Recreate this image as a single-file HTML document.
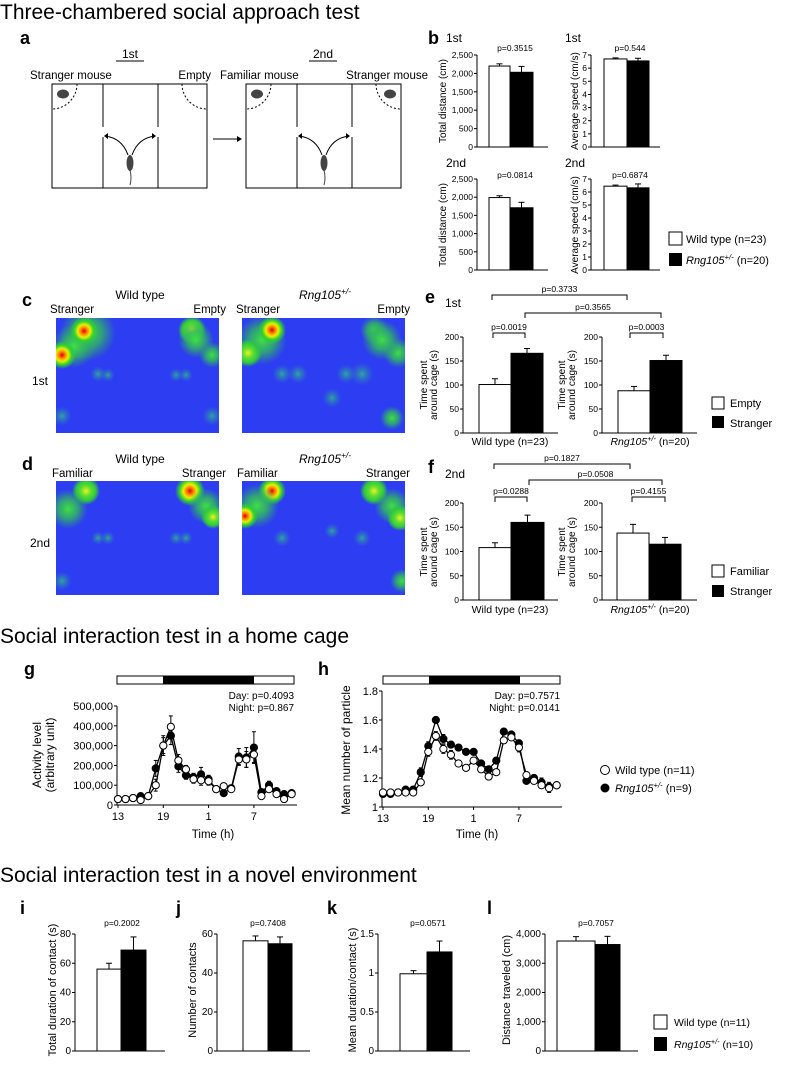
<!DOCTYPE html>
<html><head><meta charset="utf-8">
<style>
html,body{margin:0;padding:0;background:#fff;}
svg{display:block;font-family:"Liberation Sans",sans-serif;}
</style></head>
<body>
<svg id="fig" width="787" height="1075" viewBox="0 0 787 1075" xmlns="http://www.w3.org/2000/svg">
<defs>
<radialGradient id="gHot"><stop offset="0" stop-color="#e00000"/><stop offset="0.25" stop-color="#ff8800"/><stop offset="0.45" stop-color="#e8f000"/><stop offset="0.7" stop-color="#30d030"/><stop offset="1" stop-color="#30d030" stop-opacity="0"/></radialGradient>
<radialGradient id="gWarm"><stop offset="0" stop-color="#f0f020"/><stop offset="0.35" stop-color="#60e030"/><stop offset="0.7" stop-color="#30c840"/><stop offset="1" stop-color="#30c840" stop-opacity="0"/></radialGradient>
<radialGradient id="gGreen"><stop offset="0" stop-color="#40e040"/><stop offset="0.5" stop-color="#30b860" stop-opacity="0.8"/><stop offset="1" stop-color="#30a070" stop-opacity="0"/></radialGradient>
<radialGradient id="gFaint"><stop offset="0" stop-color="#30c080" stop-opacity="0.8"/><stop offset="1" stop-color="#3080c0" stop-opacity="0"/></radialGradient>
</defs>
</svg>
<script>
// ---------- data ----------
const bDist1Vals=[2200,2030]; const bDist1Errs=[60,160];
const bSpeed1Vals=[6.7,6.55]; const bSpeed1Errs=[0.08,0.2];
const bDist2Vals=[1990,1710]; const bDist2Errs=[50,150];
const bSpeed2Vals=[6.45,6.32]; const bSpeed2Errs=[0.08,0.3];
const distTicks=[0,500,1000,1500,2000,2500]; const distTickLabels=["0","500","1,000","1,500","2,000","2,500"];
const speedTicks=[0,1,2,3,4,5,6,7]; const speedTickLabels=["0","1","2","3","4","5","6","7"];
const e1WtVals=[101,166]; const e1WtErrs=[12,10];
const e1RngVals=[88,151]; const e1RngErrs=[9,11];
const f2WtVals=[108,160]; const f2WtErrs=[10,15];
const f2RngVals=[138,115]; const f2RngErrs=[18,14];
const timeTicks=[0,50,100,150,200]; const timeTickLabels=["0","50","100","150","200"];
const hourLabels=["13","19","1","7"]; const hourTickIdx=[0,6,12,18];
const gRng=[30,30,35,45,45,185,300,350,195,150,140,155,130,80,60,85,245,240,290,65,100,70,55,60].map(v=>v*1000);
const gWt=[30,30,35,25,45,100,300,395,225,180,130,125,120,80,95,80,230,230,255,45,80,55,30,55].map(v=>v*1000);
const gRngErr=[8,8,8,15,15,40,50,45,30,20,20,35,20,15,10,15,40,50,80,15,20,15,15,10].map(v=>v*1000);
const gWtErr=[8,8,8,8,15,30,40,55,30,20,20,25,20,15,15,10,30,40,40,10,15,10,10,10].map(v=>v*1000);
const gTicks=[0,100000,200000,300000,400000,500000]; const gTickLabels=["0","100,000","200,000","300,000","400,000","500,000"];
const hRng=[1.09,1.09,1.10,1.12,1.12,1.24,1.42,1.60,1.47,1.43,1.41,1.38,1.38,1.30,1.26,1.32,1.52,1.50,1.44,1.18,1.20,1.17,1.14,1.15];
const hWt=[1.10,1.10,1.10,1.10,1.10,1.17,1.38,1.49,1.40,1.36,1.30,1.27,1.32,1.26,1.21,1.24,1.46,1.48,1.41,1.22,1.18,1.15,1.13,1.15];
const hRngErr=[0.02,0.02,0.02,0.02,0.02,0.03,0.03,0.02,0.03,0.02,0.02,0.02,0.02,0.02,0.02,0.02,0.01,0.02,0.02,0.02,0.02,0.03,0.03,0.02];
const hWtErr=[0.02,0.02,0.02,0.02,0.02,0.02,0.03,0.03,0.03,0.03,0.02,0.02,0.02,0.02,0.02,0.02,0.02,0.02,0.03,0.02,0.02,0.02,0.03,0.02];
const hTicks=[1,1.2,1.4,1.6,1.8]; const hTickLabels=["1","1.2","1.4","1.6","1.8"];
const iVals=[56,69]; const iErrs=[4,9]; const iTicks=[0,20,40,60,80]; const iTickLabels=["0","20","40","60","80"];
const jVals=[56.5,55]; const jErrs=[2.5,3.5]; const jTicks=[0,20,40,60]; const jTickLabels=["0","20","40","60"];
const kVals=[0.99,1.27]; const kErrs=[0.04,0.14]; const kTicks=[0,0.5,1,1.5]; const kTickLabels=["0","0.5","1","1.5"];
const lVals=[3760,3640]; const lErrs=[150,280]; const lTicks=[0,1000,2000,3000,4000]; const lTickLabels=["0","1,000","2,000","3,000","4,000"];

// ---------- helpers ----------
const NS='http://www.w3.org/2000/svg';
const svg=document.getElementById('fig');
function mk(tag,attrs,name,parent){
  const el=document.createElementNS(NS,tag);
  for(const k in attrs) el.setAttribute(k,attrs[k]);
  
  
  (parent||svg).appendChild(el); return el;
}
function T(x,y,s,name,size,opts){
  opts=opts||{};
  const a={x:x,y:y,'font-size':size||11,fill:'#000'};
  if(opts.anchor) a['text-anchor']=opts.anchor;
  if(opts.weight) a['font-weight']=opts.weight;
  if(opts.rot!==undefined) a.transform='rotate('+opts.rot+' '+x+' '+y+')';
  if(opts.italic) a['font-style']='italic';
  const el=mk('text',a,name);
  el.textContent=s; return el;
}
function L(x1,y1,x2,y2,name,w){return mk('line',{x1:x1,y1:y1,x2:x2,y2:y2,stroke:'#000','stroke-width':w||1},name);}
function rngLabel(x,y,size,rest,name,anchor){
  const el=mk('text',{x:x,y:y,'font-size':size,'text-anchor':anchor||'start'},name);
  const a=document.createElementNS(NS,'tspan'); a.setAttribute('font-style','italic'); a.textContent='Rng105'; el.appendChild(a);
  const b=document.createElementNS(NS,'tspan'); b.setAttribute('font-style','italic'); b.setAttribute('font-size',size*0.7); b.setAttribute('dy',-size*0.4); b.textContent='+/-'; el.appendChild(b);
  const c=document.createElementNS(NS,'tspan'); c.setAttribute('dy',size*0.4); c.textContent=rest; el.appendChild(c);
  return el;
}
function barChart(o){
  const ys=v=>o.y0-(v-o.min)/(o.max-o.min)*(o.y0-o.yTop);
  L(o.ax,o.y0,o.ax,o.yTop,o.name+'-y-axis');
  L(o.ax,o.y0,o.xEnd,o.y0,o.name+'-x-axis');
  o.ticks.forEach((t,i)=>{
    L(o.ax-3,ys(t),o.ax,ys(t),o.name+'-y-tick');
    T(o.ax-4,ys(t)+3,o.tickLabels[i],o.name+'-y-tick-label',o.tf||8.5,{anchor:'end'});
  });
  o.vals.forEach((v,i)=>{
    const x0=o.bx[i],x1=o.bx[i+1],cx=(x0+x1)/2;
    const top=ys(v+o.errs[i]);
    L(cx,ys(v),cx,top,o.name+'-error-bar');
    L(cx-3,top,cx+3,top,o.name+'-error-cap');
    mk('rect',{x:x0,y:ys(v),width:x1-x0,height:o.y0-ys(v),fill:i==0?'#fff':'#000',stroke:'#000','stroke-width':1},o.name+'-bar-'+(i==0?'wt':'rng'));
  });
}
function bracket(x1,x2,y,label,name){
  mk('path',{d:'M'+x1+' '+(y+5)+'V'+y+'H'+x2+'V'+(y+5),fill:'none',stroke:'#000','stroke-width':1},name);
  T((x1+x2)/2,y-3,label,name+'-label',8.5,{anchor:'middle'});
}
function lineChart(o){
  const xs=i=>o.x0+i*o.step;
  const ys=v=>o.y0-(v-o.min)/(o.max-o.min)*(o.y0-o.yTop);
  L(o.ax,o.y0,o.ax,o.yTop,o.name+'-y-axis');
  L(o.ax,o.y0,o.xEnd,o.y0,o.name+'-x-axis');
  o.ticks.forEach((t,i)=>{L(o.ax-3,ys(t),o.ax,ys(t),o.name+'-y-tick');T(o.ax-4,ys(t)+4,o.tickLabels[i],o.name+'-y-tick-label',11,{anchor:'end'});});
  hourTickIdx.forEach((ix,i)=>{L(xs(ix),o.y0,xs(ix),o.y0+3,o.name+'-x-tick');T(xs(ix),o.y0+15,hourLabels[i],o.name+'-x-tick-label',11,{anchor:'middle'});});
  [[o.rng,o.rngErr,'#000','rng'],[o.wt,o.wtErr,'#fff','wt']].forEach(s=>{
    const d=s[0].map((v,i)=>(i?'L':'M')+xs(i).toFixed(1)+' '+ys(v).toFixed(1)).join('');
    mk('path',{d:d,fill:'none',stroke:'#000','stroke-width':1.3},o.name+'-line-'+s[3]);
  });
  [[o.rng,o.rngErr,'#000','rng'],[o.wt,o.wtErr,'#fff','wt']].forEach(s=>{
    s[0].forEach((v,i)=>{
      const t=ys(v+s[1][i]),b=ys(v-s[1][i]);
      L(xs(i),t,xs(i),b,o.name+'-error-bar-'+s[3]);
      L(xs(i)-2,t,xs(i)+2,t,o.name+'-error-cap');L(xs(i)-2,b,xs(i)+2,b,o.name+'-error-cap');
    });
    s[0].forEach((v,i)=>{mk('circle',{cx:xs(i),cy:ys(v),r:3.6,fill:s[2],stroke:'#000','stroke-width':1},o.name+'-point-'+s[3]);});
  });
}
function blob(g,x,y,r,grad,name){mk('circle',{cx:x,cy:y,r:r,fill:'url(#'+grad+')'},name,g);}
function heatmap(x,y,w,h,spots,name){
  const g=mk('g',{},name);
  mk('rect',{x:x,y:y,width:w,height:h,fill:'#2c3df2'},name+'-bg',g);
  const cp=mk('clipPath',{id:'cp'+name},name+'-clip',svg.querySelector('defs'));
  mk('rect',{x:x,y:y,width:w,height:h},name+'-clip-rect',cp);
  g.setAttribute('clip-path','url(#cp'+name+')');
  spots.forEach(s=>blob(g,x+s[0],y+s[1],s[2],s[3],name+'-hotspot'));
}

// ---------- titles ----------
T(0,19,'Three-chambered social approach test','section-title-three-chambered',21);
T(0,643,'Social interaction test in a home cage','section-title-home-cage',21);
T(0,882,'Social interaction test in a novel environment','section-title-novel-environment',21);

// ---------- panel a ----------
T(20,44,'a','panel-label-a',18,{weight:'bold'});
T(130,58,'1st','a-1st-label',12,{anchor:'middle'});L(116,61,144,61,'a-1st-underline');
T(323,58,'2nd','a-2nd-label',12,{anchor:'middle'});L(309,61,337,61,'a-2nd-underline');
T(30,79,'Stranger mouse','a-stranger-label',11.5);
T(211,79,'Empty','a-empty-label',11.5,{anchor:'end'});
T(220,79,'Familiar mouse','a-familiar-label',11.5);
T(428,79,'Stranger mouse','a-stranger-label-2',11.5,{anchor:'end'});
function chamber(x0,name,leftMouse,rightMouse){
  mk('rect',{x:x0,y:84,width:155,height:104,fill:'none',stroke:'#000','stroke-width':1},name+'-box');
  [51,106].forEach(dx=>{L(x0+dx,84,x0+dx,127,name+'-divider');L(x0+dx,137,x0+dx,188,name+'-divider');});
  mk('path',{d:'M'+(x0+25)+' 84 A25 25 0 0 1 '+x0+' 109',fill:'none',stroke:'#000','stroke-dasharray':'2,2'},name+'-cage-left');
  mk('path',{d:'M'+(x0+130)+' 84 A25 25 0 0 0 '+(x0+155)+' 109',fill:'none',stroke:'#000','stroke-dasharray':'2,2'},name+'-cage-right');
  if(leftMouse) mk('ellipse',{cx:x0+11,cy:94,rx:6,ry:4.5,fill:'#444'},name+'-mouse-left');
  if(rightMouse) mk('ellipse',{cx:x0+144,cy:94,rx:6,ry:4.5,fill:'#444'},name+'-mouse-right');
  const cx=x0+78;
  mk('ellipse',{cx:cx,cy:163,rx:3.5,ry:8,fill:'#444'},name+'-center-mouse');
  mk('path',{d:'M'+cx+' 170 Q'+(cx+2)+' 178 '+cx+' 185',fill:'none',stroke:'#444'},name+'-mouse-tail');
  mk('path',{d:'M'+(cx-2)+' 155 Q'+(cx-8)+' 138 '+(cx-25)+' 136',fill:'none',stroke:'#000'},name+'-arrow-left');
  mk('path',{d:'M'+(cx+2)+' 155 Q'+(cx+8)+' 138 '+(cx+25)+' 136',fill:'none',stroke:'#000'},name+'-arrow-right');
  mk('path',{d:'M'+(cx-26)+' 136 l4 -3 v6 z',fill:'#000'},name+'-arrowhead');
  mk('path',{d:'M'+(cx+26)+' 136 l-4 -3 v6 z',fill:'#000'},name+'-arrowhead');
}
chamber(52,'a-chamber-1st',true,false);
chamber(246,'a-chamber-2nd',true,true);
L(213,139,238,139,'a-transition-arrow');mk('path',{d:'M242 139 l-5 -3 v6 z',fill:'#000'},'a-transition-arrowhead');

// ---------- panel b ----------
T(428,44,'b','panel-label-b',18,{weight:'bold'});
T(446,42,'1st','b-1st-label',12);T(565,42,'1st','b-1st-label-2',12);
T(446,167,'2nd','b-2nd-label',12);T(565,167,'2nd','b-2nd-label-2',12);
T(515,51,'p=0.3515','b-p-dist1',8.5,{anchor:'middle'});
T(630,51,'p=0.544','b-p-speed1',8.5,{anchor:'middle'});
T(515,178,'p=0.0814','b-p-dist2',8.5,{anchor:'middle'});
T(630,178,'p=0.6874','b-p-speed2',8.5,{anchor:'middle'});
barChart({name:'b-dist-1st',ax:477,y0:147,yTop:55,min:0,max:2500,ticks:distTicks,tickLabels:distTickLabels,vals:bDist1Vals,errs:bDist1Errs,bx:[489,510,533],xEnd:548});
barChart({name:'b-speed-1st',ax:591,y0:147,yTop:55,min:0,max:7,ticks:speedTicks,tickLabels:speedTickLabels,vals:bSpeed1Vals,errs:bSpeed1Errs,bx:[604,627,649],xEnd:660});
barChart({name:'b-dist-2nd',ax:477,y0:270,yTop:179,min:0,max:2500,ticks:distTicks,tickLabels:distTickLabels,vals:bDist2Vals,errs:bDist2Errs,bx:[489,510,533],xEnd:548});
barChart({name:'b-speed-2nd',ax:591,y0:270,yTop:179,min:0,max:7,ticks:speedTicks,tickLabels:speedTickLabels,vals:bSpeed2Vals,errs:bSpeed2Errs,bx:[604,627,649],xEnd:660});
T(446,101,'Total distance (cm)','b-y-title-dist',10,{anchor:'middle',rot:-90});
T(578,101,'Average speed (cm/s)','b-y-title-speed',10,{anchor:'middle',rot:-90});
T(446,225,'Total distance (cm)','b-y-title-dist-2',10,{anchor:'middle',rot:-90});
T(578,225,'Average speed (cm/s)','b-y-title-speed-2',10,{anchor:'middle',rot:-90});
mk('rect',{x:669,y:232,width:13,height:13,fill:'#fff',stroke:'#000'},'b-legend-wt-swatch');
T(686,243,'Wild type (n=23)','b-legend-wt-label',11);
mk('rect',{x:669,y:253,width:13,height:13,fill:'#000'},'b-legend-rng-swatch');
rngLabel(686,264,11,' (n=20)','b-legend-rng-label');

// ---------- panels c, d ----------
T(22,306,'c','panel-label-c',18,{weight:'bold'});
T(140,299,'Wild type','c-wt-title',12,{anchor:'middle'});
rngLabel(325,299,12,'','c-rng-title','middle');
T(50,313,'Stranger','c-stranger-1',11.5);T(226,313,'Empty','c-empty-1',11.5,{anchor:'end'});
T(236,313,'Stranger','c-stranger-2',11.5);T(410,313,'Empty','c-empty-2',11.5,{anchor:'end'});
T(32,385,'1st','c-1st-label',12);
heatmap(56,318,163,115,[[32,15,28,'gGreen'],[18,28,22,'gGreen'],[28,13,14,'gHot'],[6,37,14,'gHot'],[136,12,14,'gWarm'],[156,37,13,'gGreen'],[140,22,18,'gGreen'],[42,56,8,'gFaint'],[52,57,7,'gFaint'],[120,57,7,'gFaint'],[130,57,7,'gFaint'],[6,98,10,'gFaint'],[156,98,10,'gFaint']],'c-heatmap-wt');
heatmap(242,318,163,115,[[20,22,25,'gGreen'],[30,12,14,'gHot'],[6,35,14,'gWarm'],[132,12,14,'gGreen'],[156,35,15,'gGreen'],[140,22,20,'gGreen'],[40,56,10,'gFaint'],[56,56,10,'gFaint'],[104,56,10,'gFaint'],[120,56,12,'gFaint'],[150,100,12,'gGreen'],[90,80,10,'gFaint']],'c-heatmap-rng');
T(22,470,'d','panel-label-d',18,{weight:'bold'});
T(140,463,'Wild type','d-wt-title',12,{anchor:'middle'});
rngLabel(325,463,12,'','d-rng-title','middle');
T(52,477,'Familiar','d-familiar-1',11.5);T(226,477,'Stranger','d-stranger-1',11.5,{anchor:'end'});
T(237,477,'Familiar','d-familiar-2',11.5);T(410,477,'Stranger','d-stranger-2',11.5,{anchor:'end'});
T(30,547,'2nd','d-2nd-label',12);
heatmap(56,481,163,114,[[30,10,14,'gWarm'],[12,28,20,'gGreen'],[134,10,15,'gHot'],[150,25,18,'gGreen'],[157,36,12,'gWarm'],[42,57,7,'gFaint'],[52,57,7,'gFaint'],[120,57,7,'gFaint'],[130,57,7,'gFaint'],[6,100,10,'gFaint']],'d-heatmap-wt');
heatmap(242,481,163,114,[[30,10,14,'gHot'],[15,25,22,'gGreen'],[3,35,13,'gHot'],[132,10,14,'gWarm'],[150,25,18,'gGreen'],[158,37,13,'gWarm'],[160,100,12,'gGreen'],[40,57,9,'gFaint'],[120,57,9,'gFaint'],[90,50,8,'gFaint']],'d-heatmap-rng');

// ---------- panels e, f ----------
T(425,303,'e','panel-label-e',18,{weight:'bold'});T(445,307,'1st','e-1st-label',12);
bracket(492,627,295,'p=0.3733','e-bracket-wt-vs-rng-empty');
bracket(525,661,313,'p=0.3565','e-bracket-wt-vs-rng-stranger');
bracket(493,525,333,'p=0.0019','e-bracket-wt');
bracket(630,663,333,'p=0.0003','e-bracket-rng');
barChart({name:'e-wt',ax:463,y0:433,yTop:337,min:0,max:200,ticks:timeTicks,tickLabels:timeTickLabels,vals:e1WtVals,errs:e1WtErrs,bx:[479,511,543],xEnd:558});
barChart({name:'e-rng',ax:602,y0:433,yTop:337,min:0,max:200,ticks:timeTicks,tickLabels:timeTickLabels,vals:e1RngVals,errs:e1RngErrs,bx:[618,650,682],xEnd:697});
T(510,445,'Wild type (n=23)','e-x-label-wt',10.5,{anchor:'middle'});
rngLabel(650,445,10.5,' (n=20)','e-x-label-rng','middle');
T(427,385,'Time spent','e-y-title-1',10,{anchor:'middle',rot:-90});T(437,385,'around cage (s)','e-y-title-2',10,{anchor:'middle',rot:-90});
T(565,385,'Time spent','e-y-title-rng-1',10,{anchor:'middle',rot:-90});T(575,385,'around cage (s)','e-y-title-rng-2',10,{anchor:'middle',rot:-90});
mk('rect',{x:712,y:397,width:12,height:12,fill:'#fff',stroke:'#000'},'e-legend-empty-swatch');T(730,407,'Empty','e-legend-empty-label',11);
mk('rect',{x:712,y:416,width:12,height:12,fill:'#000'},'e-legend-stranger-swatch');T(730,427,'Stranger','e-legend-stranger-label',11);

T(428,473,'f','panel-label-f',18,{weight:'bold'});T(445,478,'2nd','f-2nd-label',12);
bracket(494,630,464,'p=0.1827','f-bracket-wt-vs-rng-familiar');
bracket(529,662,480,'p=0.0508','f-bracket-wt-vs-rng-stranger');
bracket(495,527,497,'p=0.0288','f-bracket-wt');
bracket(632,665,497,'p=0.4155','f-bracket-rng');
barChart({name:'f-wt',ax:463,y0:600,yTop:503,min:0,max:200,ticks:timeTicks,tickLabels:timeTickLabels,vals:f2WtVals,errs:f2WtErrs,bx:[479,511,544],xEnd:558});
barChart({name:'f-rng',ax:602,y0:600,yTop:503,min:0,max:200,ticks:timeTicks,tickLabels:timeTickLabels,vals:f2RngVals,errs:f2RngErrs,bx:[617,649,681],xEnd:697});
T(510,613,'Wild type (n=23)','f-x-label-wt',10.5,{anchor:'middle'});
rngLabel(650,613,10.5,' (n=20)','f-x-label-rng','middle');
T(427,552,'Time spent','f-y-title-1',10,{anchor:'middle',rot:-90});T(437,552,'around cage (s)','f-y-title-2',10,{anchor:'middle',rot:-90});
T(565,552,'Time spent','f-y-title-rng-1',10,{anchor:'middle',rot:-90});T(575,552,'around cage (s)','f-y-title-rng-2',10,{anchor:'middle',rot:-90});
mk('rect',{x:712,y:565,width:12,height:12,fill:'#fff',stroke:'#000'},'f-legend-familiar-swatch');T(730,575,'Familiar','f-legend-familiar-label',11);
mk('rect',{x:712,y:585,width:12,height:12,fill:'#000'},'f-legend-stranger-swatch');T(730,595,'Stranger','f-legend-stranger-label',11);

// ---------- panels g, h ----------
T(24,675,'g','panel-label-g',18,{weight:'bold'});
mk('rect',{x:117,y:676,width:177,height:8,fill:'#fff',stroke:'#000'},'g-light-dark-bar');
mk('rect',{x:163,y:676,width:91,height:8,fill:'#000'},'g-dark-phase');
T(294,699,'Day:   p=0.4093','g-day-p',10,{anchor:'end'});
T(294,711,'Night: p=0.867','g-night-p',10,{anchor:'end'});
lineChart({name:'g',ax:117,x0:118,step:7.55,y0:805,yTop:706,min:0,max:500000,xEnd:297,ticks:gTicks,tickLabels:gTickLabels,rng:gRng,wt:gWt,rngErr:gRngErr,wtErr:gWtErr});
T(213,838,'Time (h)','g-x-title',11.5,{anchor:'middle'});
T(41,755,'Activity level','g-y-title-1',12,{anchor:'middle',rot:-90});
T(54,755,'(arbitrary unit)','g-y-title-2',12,{anchor:'middle',rot:-90});

T(318,675,'h','panel-label-h',18,{weight:'bold'});
mk('rect',{x:383,y:676,width:177,height:8,fill:'#fff',stroke:'#000'},'h-light-dark-bar');
mk('rect',{x:429,y:676,width:91,height:8,fill:'#000'},'h-dark-phase');
T(560,699,'Day:   p=0.7571','h-day-p',10,{anchor:'end'});
T(560,711,'Night: p=0.0141','h-night-p',10,{anchor:'end'});
lineChart({name:'h',ax:382,x0:383,step:7.55,y0:807,yTop:691,min:1,max:1.8,xEnd:562,ticks:hTicks,tickLabels:hTickLabels,rng:hRng,wt:hWt,rngErr:hRngErr,wtErr:hWtErr});
T(477,838,'Time (h)','h-x-title',11.5,{anchor:'middle'});
T(350,750,'Mean number of particle','h-y-title',12,{anchor:'middle',rot:-90});
mk('circle',{cx:605,cy:770,r:4.5,fill:'#fff',stroke:'#000'},'gh-legend-wt-marker');T(615,774,'Wild type (n=11)','gh-legend-wt-label',11);
mk('circle',{cx:605,cy:788,r:4.5,fill:'#000'},'gh-legend-rng-marker');rngLabel(615,792,11,' (n=9)','gh-legend-rng-label');

// ---------- panels i-l ----------
T(20,914,'i','panel-label-i',18,{weight:'bold'});
T(122,926,'p=0.2002','i-p',8.5,{anchor:'middle'});
barChart({name:'i',ax:75,y0:1051,yTop:934,min:0,max:80,ticks:iTicks,tickLabels:iTickLabels,vals:iVals,errs:iErrs,bx:[97,121,146],xEnd:165,tf:10});
T(56,990,'Total duration of contact (s)','i-y-title',11,{anchor:'middle',rot:-90});
T(176,914,'j','panel-label-j',18,{weight:'bold'});
T(268,926,'p=0.7408','j-p',8.5,{anchor:'middle'});
barChart({name:'j',ax:217,y0:1051,yTop:934,min:0,max:60,ticks:jTicks,tickLabels:jTickLabels,vals:jVals,errs:jErrs,bx:[243,268,292],xEnd:310,tf:10});
T(196,990,'Number of contacts','j-y-title',11,{anchor:'middle',rot:-90});
T(327,914,'k','panel-label-k',18,{weight:'bold'});
T(428,926,'p=0.0571','k-p',8.5,{anchor:'middle'});
barChart({name:'k',ax:378,y0:1051,yTop:934,min:0,max:1.5,ticks:kTicks,tickLabels:kTickLabels,vals:kVals,errs:kErrs,bx:[400,427,452],xEnd:470,tf:10});
T(356,990,'Mean duration/contact (s)','k-y-title',11,{anchor:'middle',rot:-90});
T(487,914,'l','panel-label-l',18,{weight:'bold'});
T(596,926,'p=0.7057','l-p',8.5,{anchor:'middle'});
barChart({name:'l',ax:545,y0:1051,yTop:934,min:0,max:4000,ticks:lTicks,tickLabels:lTickLabels,vals:lVals,errs:lErrs,bx:[557,595,620],xEnd:638,tf:10});
T(510,990,'Distance traveled (cm)','l-y-title',11,{anchor:'middle',rot:-90});
mk('rect',{x:654,y:1015,width:13,height:14,fill:'#fff',stroke:'#000'},'ijkl-legend-wt-swatch');T(674,1026,'Wild type (n=11)','ijkl-legend-wt-label',10.5);
mk('rect',{x:654,y:1037,width:13,height:14,fill:'#000'},'ijkl-legend-rng-swatch');rngLabel(674,1048,10.5,' (n=10)','ijkl-legend-rng-label');
</script>
</body></html>
